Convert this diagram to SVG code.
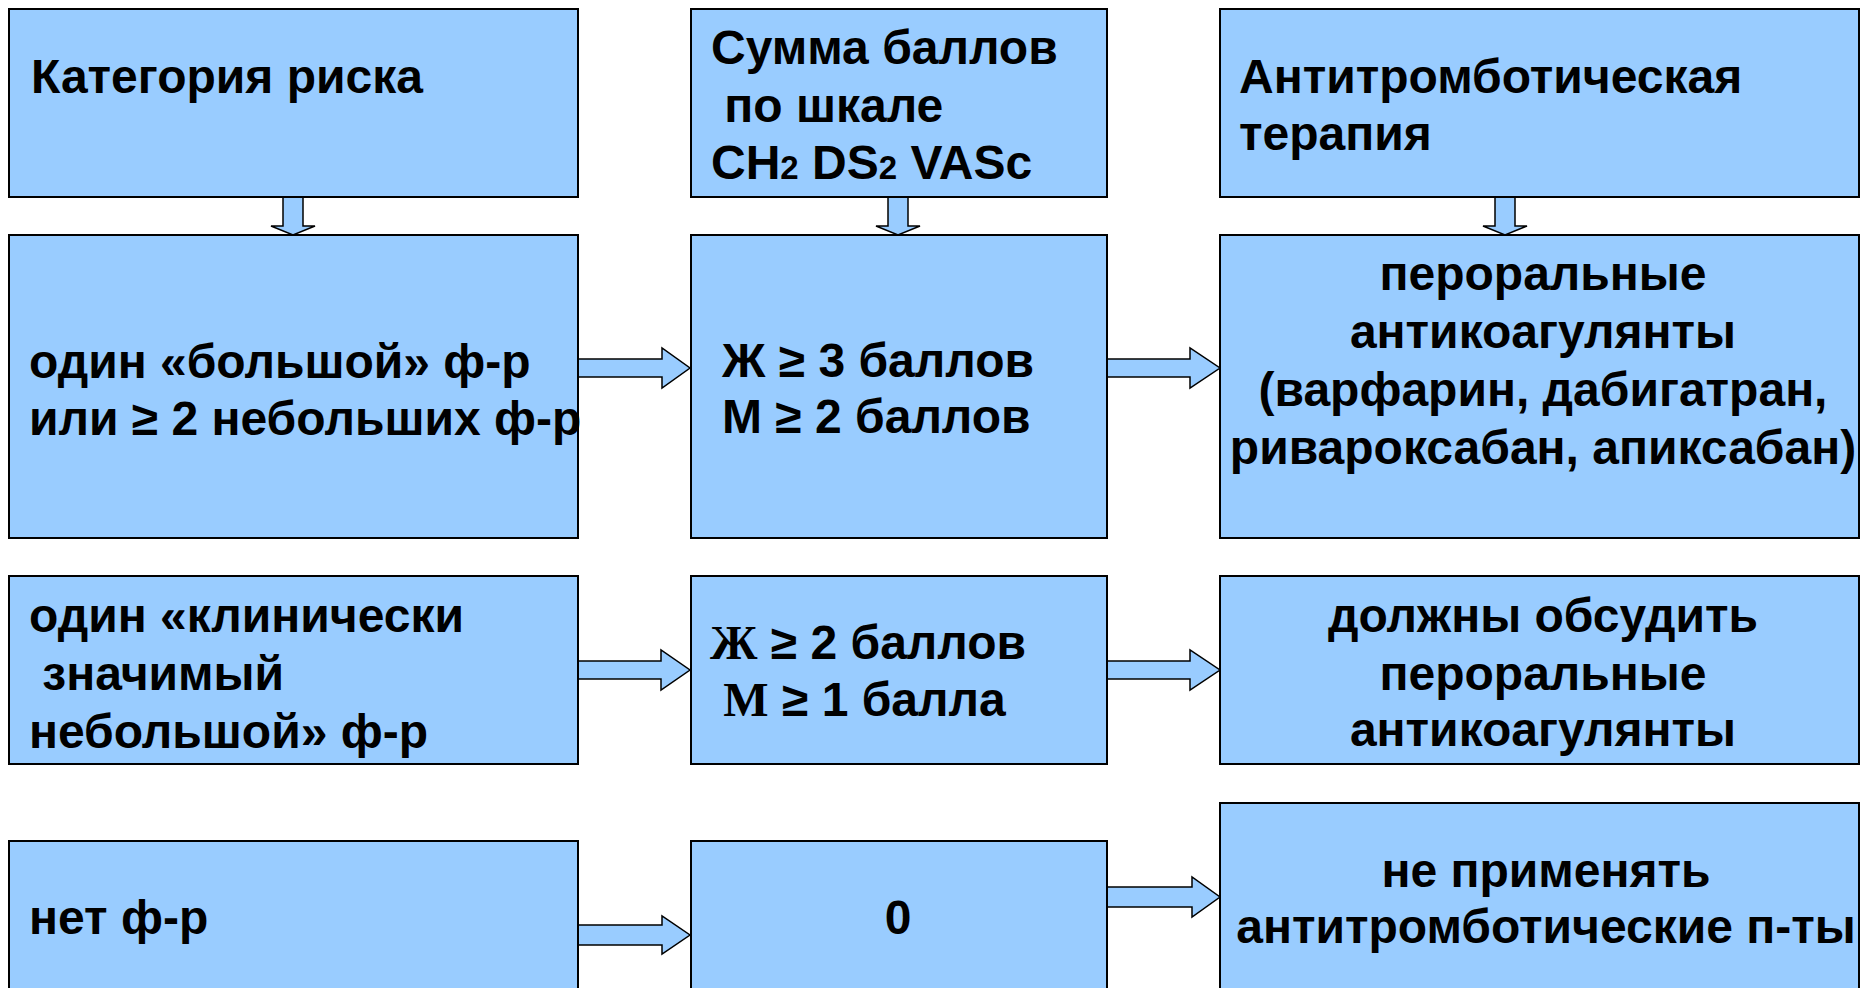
<svg xmlns="http://www.w3.org/2000/svg" width="1863" height="988" viewBox="0 0 1863 988">
<style>
.box{fill:#99CCFF;stroke:#000;stroke-width:2}
.arr{fill:#99CCFF;stroke:#000;stroke-width:1.5;stroke-linejoin:miter}
text{font-family:"Liberation Sans",Arial,sans-serif;font-weight:bold;font-size:48px;fill:#000}
.c{text-anchor:middle}
.sub{font-size:33px}
.serif{font-family:"Liberation Serif","Times New Roman",serif}
</style>
<rect width="1863" height="988" fill="#fff"/>
<g id="connectors">
<polygon class="arr" points="283,197 303,197 303,226 315,226 293,235 271,226 283,226"/>
<polygon class="arr" points="888,197 908,197 908,226 920,226 898,235 876,226 888,226"/>
<polygon class="arr" points="1495,197 1515,197 1515,226 1527,226 1505,235 1483,226 1495,226"/>
<polygon class="arr" points="578,359 662,359 662,348 690,368 662,388 662,377 578,377"/>
<polygon class="arr" points="1107,359 1190,359 1190,348 1220,368 1190,388 1190,377 1107,377"/>
<polygon class="arr" points="578,661 661,661 661,650 690,670 661,690 661,679 578,679"/>
<polygon class="arr" points="1107,661 1190,661 1190,650 1220,670 1190,690 1190,679 1107,679"/>
<polygon class="arr" points="578,925 662,925 662,916 690,935 662,954 662,945 578,945"/>
<polygon class="arr" points="1107,887 1192,887 1192,877 1220,897 1192,917 1192,907 1107,907"/>
</g>
<g id="risk-category">
<rect class="box" x="9" y="9" width="569" height="188"/>
<text x="31" y="93">Категория риска</text>
</g>
<g id="score-header">
<rect class="box" x="691" y="9" width="416" height="188"/>
<text x="711" y="64">Сумма баллов</text>
<text x="711" y="122" xml:space="preserve"> по шкале</text>
<text x="711" y="179">CH<tspan class="sub">2</tspan> DS<tspan class="sub">2</tspan> VASc</text>
</g>
<g id="therapy-header">
<rect class="box" x="1220" y="9" width="639" height="188"/>
<text x="1239" y="93">Антитромботическая</text>
<text x="1239" y="150">терапия</text>
</g>
<g id="major-risk">
<rect class="box" x="9" y="235" width="569" height="303"/>
<text x="29" y="378">один «большой» ф-р</text>
<text x="29" y="435">или ≥ 2 небольших ф-р</text>
</g>
<g id="score-high">
<rect class="box" x="691" y="235" width="416" height="303"/>
<text x="722" y="377">Ж ≥ 3 баллов</text>
<text x="722" y="433">М ≥ 2 баллов</text>
</g>
<g id="oral-anticoagulants">
<rect class="box" x="1220" y="235" width="639" height="303"/>
<text class="c" x="1543" y="290">пероральные</text>
<text class="c" x="1543" y="348">антикоагулянты</text>
<text class="c" x="1543" y="406">(варфарин, дабигатран,</text>
<text class="c" x="1543" y="464">ривароксабан, апиксабан)</text>
</g>
<g id="clinical-minor-risk">
<rect class="box" x="9" y="576" width="569" height="188"/>
<text x="29" y="632">один «клинически</text>
<text x="29" y="690" xml:space="preserve"> значимый</text>
<text x="29" y="748">небольшой» ф-р</text>
</g>
<g id="score-mid">
<rect class="box" x="691" y="576" width="416" height="188"/>
<text x="710" y="659"><tspan class="serif">Ж</tspan> ≥ 2 баллов</text>
<text x="710" y="716" xml:space="preserve"> <tspan class="serif">М</tspan> ≥ 1 балла</text>
</g>
<g id="discuss-anticoagulants">
<rect class="box" x="1220" y="576" width="639" height="188"/>
<text class="c" x="1543" y="632">должны обсудить</text>
<text class="c" x="1543" y="690">пероральные</text>
<text class="c" x="1543" y="746">антикоагулянты</text>
</g>
<g id="no-risk">
<rect class="box" x="9" y="841" width="569" height="170"/>
<text x="29" y="934">нет ф-р</text>
</g>
<g id="score-zero">
<rect class="box" x="691" y="841" width="416" height="170"/>
<text class="c" x="898" y="934">0</text>
</g>
<g id="no-antithrombotic">
<rect class="box" x="1220" y="803" width="639" height="210"/>
<text class="c" x="1546" y="887">не применять</text>
<text class="c" x="1546" y="943">антитромботические п-ты</text>
</g>
</svg>
